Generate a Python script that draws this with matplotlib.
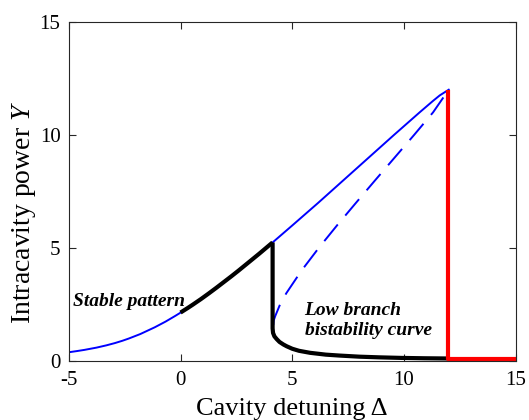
import matplotlib
matplotlib.use('Agg')
import matplotlib.pyplot as plt

plt.rcParams['font.family'] = 'Liberation Serif'
plt.rcParams['mathtext.fontset'] = 'custom'
plt.rcParams['mathtext.rm'] = 'Liberation Serif'
plt.rcParams['mathtext.it'] = 'Liberation Serif:italic'
plt.rcParams['axes.unicode_minus'] = False

# upper homogeneous branch (blue, solid)
upper_d = [-5.0, -4.62, -4.3, -3.76, -3.32, -2.94, -2.61, -2.32, -1.8, -1.15, -0.67,
           -0.24, 0.09, 0.32, 0.55, 0.92, 1.27, 1.61, 1.94, 2.27, 2.59, 2.9,
           3.21, 3.52, 3.82, 4.18, 5.0, 5.58, 6.16, 7.29, 8.42, 9.55, 10.7,
           11.29, 11.6, 12.0]
upper_y = [0.395, 0.45, 0.5, 0.6, 0.7, 0.8, 0.9, 1.0, 1.2, 1.5, 1.75,
           2.0, 2.2, 2.35, 2.5, 2.75, 3.0, 3.25, 3.5, 3.75, 4.0, 4.25,
           4.5, 4.75, 5.0, 5.3, 6.0, 6.5, 7.0, 8.0, 9.0, 10.0, 11.0,
           11.5, 11.75, 12.0]

# middle (unstable) branch, blue dashed
mid_d = [4.15, 4.17, 4.24, 4.45, 4.73, 5.41, 6.18, 7.0, 7.85, 8.71, 9.58, 10.45, 11.3, 12.0]
mid_y = [1.6, 1.8, 2.0, 2.5, 3.0, 4.0, 5.0, 6.0, 7.0, 8.0, 9.0, 10.0, 11.0, 12.0]

# stable pattern segment (black, thick)
stable_d = [0.0, 0.32, 0.55, 0.92, 1.27, 1.61, 1.94, 2.27, 2.59, 2.9, 3.21, 3.52, 3.82, 4.12]
stable_y = [2.15, 2.35, 2.5, 2.75, 3.0, 3.25, 3.5, 3.75, 4.0, 4.25, 4.5, 4.75, 5.0, 5.25]

# drop onto the low branch (black, thick)
low_d = [4.12, 4.12, 4.14, 4.2, 4.3, 4.43, 4.6, 4.75, 5.0, 5.3, 5.8, 6.5, 7.1,
         8.0, 8.9, 9.9, 10.9, 11.95]
low_y = [5.25, 1.45, 1.25, 1.1, 0.98, 0.85, 0.74, 0.66, 0.55, 0.46, 0.37, 0.29, 0.25,
         0.2, 0.17, 0.145, 0.13, 0.12]

# red switch-off line
red_d = [11.95, 11.95, 15.0]
red_y = [12.0, 0.1, 0.1]

fig = plt.figure(figsize=(5.29, 4.20), dpi=100)
ax = fig.add_axes([0.130, 0.140, 0.845, 0.808])

ax.plot(upper_d, upper_y, color='#0000ff', lw=1.4)
ax.plot(mid_d, mid_y, color='#0000ff', lw=1.4, dashes=(11, 6))
ax.plot(stable_d, stable_y, color='black', lw=3.0, solid_capstyle='butt')
ax.plot(low_d, low_y, color='black', lw=3.0, solid_joinstyle='round',
        solid_capstyle='butt')
ax.plot(red_d, red_y, color='#ff0000', lw=3.0, clip_on=False,
        solid_capstyle='butt')

ax.text(-4.8, 2.65, 'Stable pattern', fontsize=14, fontweight='bold',
        style='italic', va='center')
ax.text(5.55, 1.8, 'Low branch\nbistability curve', fontsize=14,
        fontweight='bold', style='italic', va='center', linespacing=1.3)

ax.set_xlim(-5, 15)
ax.set_ylim(0, 15)
ax.set_xticks([-5, 0, 5, 10, 15])
ax.set_yticks([0, 5, 10, 15])
ax.tick_params(direction='in', top=True, right=True, labelsize=15,
               length=5, width=0.8, colors='#262626', labelcolor='black')
ax.tick_params(axis='x', pad=7)
ax.tick_params(axis='y', pad=6)
for s in ax.spines.values():
    s.set_color('#262626')
    s.set_linewidth(0.8)

ax.set_xlabel('Cavity detuning Δ', fontsize=19, labelpad=6)
ax.set_ylabel('Intracavity power $Y$', fontsize=20)
ax.yaxis.set_label_coords(-0.068, 0.44)

fig.savefig('out.png', dpi=100)
